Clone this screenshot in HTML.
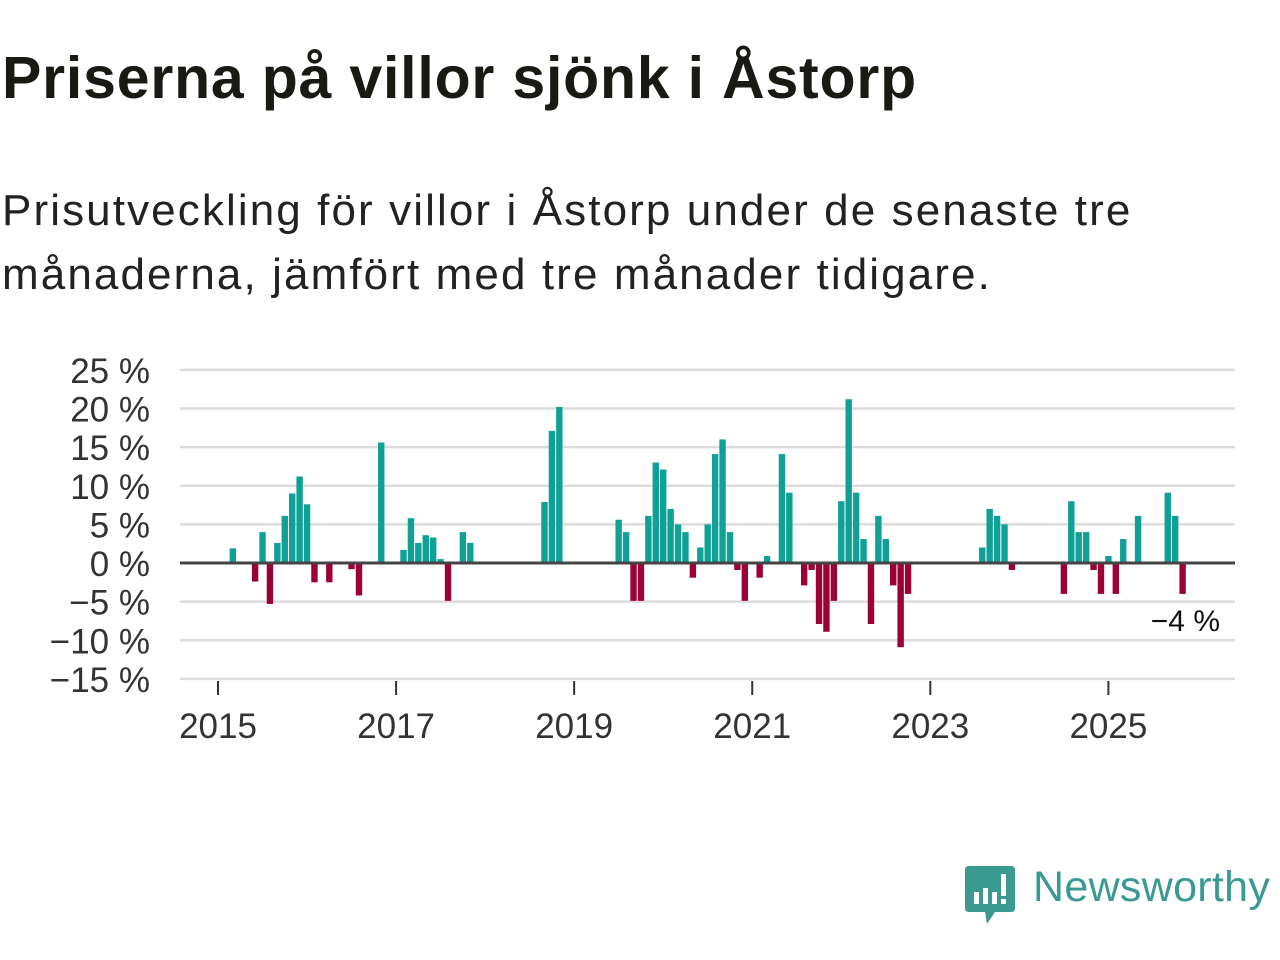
<!DOCTYPE html>
<html><head><meta charset="utf-8"><style>
body{margin:0;width:1280px;height:960px;background:#fff;font-family:"Liberation Sans","DejaVu Sans",sans-serif;overflow:hidden;position:relative}
h1{position:absolute;left:2px;top:44px;margin:0;font-size:59px;font-weight:bold;color:#1a1a14;letter-spacing:0.8px}
p{position:absolute;left:2px;top:179px;margin:0;font-size:44px;line-height:64px;color:#222;width:1200px;letter-spacing:2.1px}
</style></head><body>
<h1>Priserna på villor sjönk i Åstorp</h1>
<p>Prisutveckling för villor i Åstorp under de senaste tre<br>månaderna, jämfört med tre månader tidigare.</p>
<svg id="chart" width="1280" height="960" style="position:absolute;left:0;top:0" xmlns="http://www.w3.org/2000/svg"></svg>
<script>
const monthIdx=[2,5,6,7,8,9,10,11,12,13,15,18,19,22,25,26,27,28,29,30,31,33,34,44,45,46,54,55,56,57,58,59,60,61,62,63,64,65,66,67,68,69,70,71,73,74,76,77,79,80,81,82,83,84,85,86,87,88,89,90,91,92,93,103,104,105,106,107,114,115,116,117,118,119,120,121,122,124,128,129,130];
const values=[1.9,-2.4,4,-5.3,2.6,6.1,9,11.2,7.6,-2.5,-2.5,-0.8,-4.2,15.6,1.7,5.8,2.6,3.6,3.3,0.5,-4.9,4,2.6,7.9,17.1,20.2,5.6,4,-4.9,-4.9,6.1,13,12.1,7,5,4,-1.9,2,5,14.1,16,4,-0.9,-4.9,-1.9,0.9,14.1,9.1,-2.9,-0.9,-7.9,-8.9,-4.9,8,21.2,9.1,3.1,-7.9,6.1,3.1,-2.9,-10.9,-4,2,7,6.1,5,-0.9,-4,8,4,4,-0.9,-4,0.9,-4,3.1,6.1,9.1,6.1,-4];
const yTicks=[25,20,15,10,5,0,-5,-10,-15];
const yTickLabels=["25 %","20 %","15 %","10 %","5 %","0 %","−5 %","−10 %","−15 %"];
const xYears=[2015,2017,2019,2021,2023,2025];
const NS="http://www.w3.org/2000/svg";
const svg=document.getElementById('chart');
const y=v=>563-v*7.725;
const x=m=>218+m*7.42;
function mk(t,a){const e=document.createElementNS(NS,t);for(const k in a)e.setAttribute(k,a[k]);svg.appendChild(e);return e;}
yTicks.forEach((t,i)=>{
 if(t!==0){const g=mk('line',{x1:180,x2:1235,y1:y(t),y2:y(t),stroke:'#dcdcdc','stroke-width':2.5});
 
 }
 const l=mk('text',{x:150,y:y(t)+13,'text-anchor':'end','font-size':35,fill:'#333'});
 l.textContent=yTickLabels[i];
 
 
});
xYears.forEach(yr=>{
 const xx=x((yr-2015)*12);
 const t=mk('line',{x1:xx,x2:xx,y1:681,y2:695,stroke:'#333','stroke-width':2});
 
 
 const l=mk('text',{x:xx,y:738,'text-anchor':'middle','font-size':35,fill:'#333'});
 l.textContent=yr;
 
 
});
monthIdx.forEach((m,i)=>{
 const v=values[i];
 const r=mk('rect',{x:x(m)-3.2,width:6.4,y:Math.min(y(v),y(0)),height:Math.abs(y(v)-y(0)),fill:v>=0?'#10a196':'#9b0036'});
 
 
});
const z=mk('line',{x1:180,x2:1235,y1:y(0),y2:y(0),stroke:'#444','stroke-width':3});


const ann=mk('text',{x:1220,y:631,'text-anchor':'end','font-size':30,fill:'#111',stroke:'#fff','stroke-width':6,'paint-order':'stroke'});
ann.textContent='−4 %';


</script>
<div style="position:absolute;left:965px;top:866px;">
<svg width="52" height="60" viewBox="0 0 52 60"><path d="M4 0H46Q50 0 50 4V42Q50 46 46 46H30L22 58L20 46H4Q0 46 0 42V4Q0 0 4 0Z" fill="#3a9a92"/><rect x="9" y="26" width="5" height="12" fill="#fff"/><rect x="18" y="22" width="5" height="16" fill="#fff"/><rect x="27" y="26" width="5" height="12" fill="#fff"/><rect x="36" y="8" width="5" height="22" fill="#fff"/><rect x="36" y="33" width="5" height="5" fill="#fff"/></svg>
<span style="position:absolute;left:68px;top:-3px;font-size:43px;color:#3a9a92;white-space:nowrap;letter-spacing:0.3px">Newsworthy</span>
</div>
</body></html>
